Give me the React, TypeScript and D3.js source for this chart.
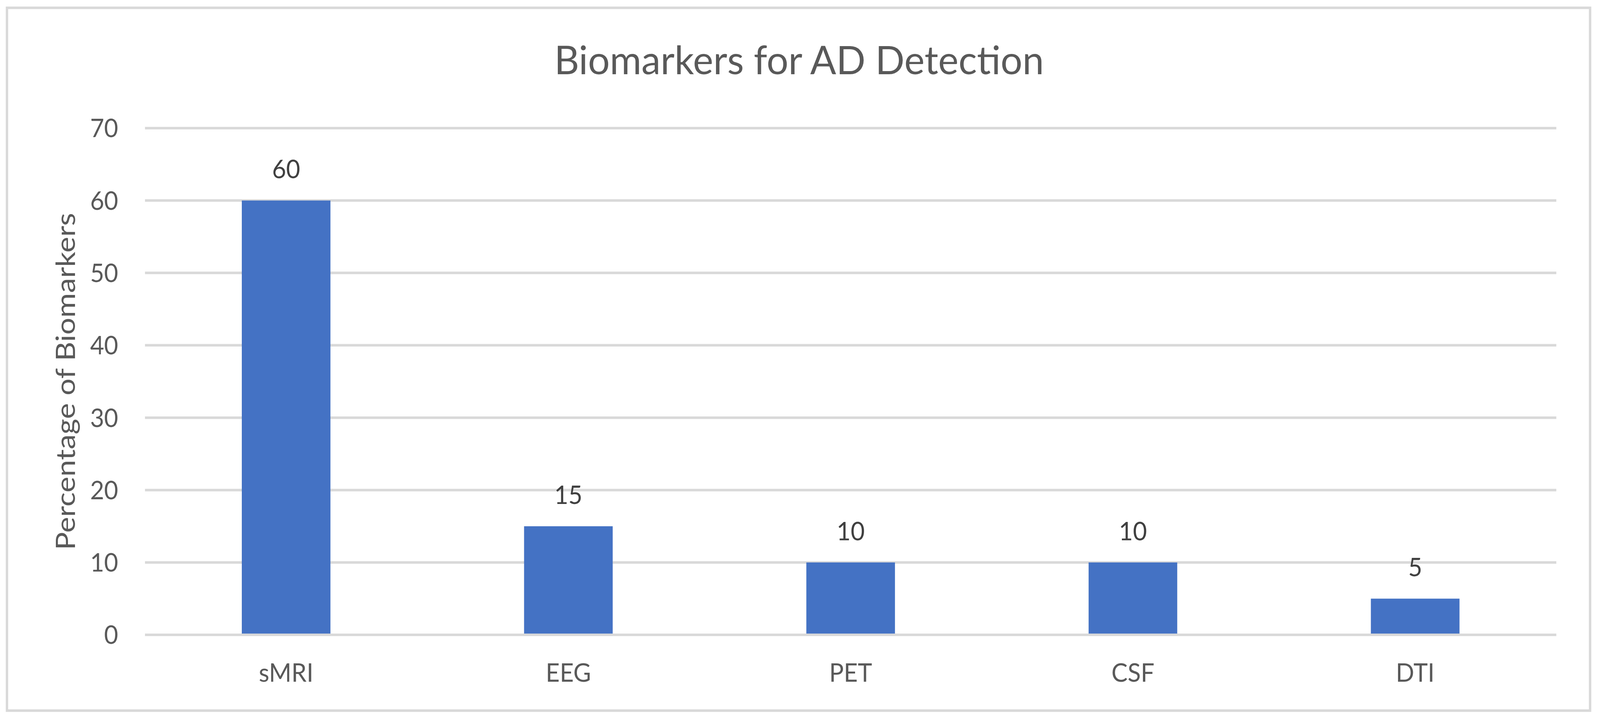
import * as d3 from "d3";
import { useEffect, useRef } from "react";

const categories = ["sMRI", "EEG", "PET", "CSF", "DTI"];
const values = [60, 15, 10, 10, 5];
const yTicks = [0, 10, 20, 30, 40, 50, 60, 70];
const chartTitle = "Biomarkers for AD Detection";
const yTitle = "Percentage of Biomarkers";

const W = 4359;
const H = 1843;
const FONT = "Lato, 'Open Sans', sans-serif";

const drawChart = (target: any) => {
  const m = { left: 395, right: 4240, top: 328, bottom: 1625 };

  const x = d3
    .scaleBand<string>()
    .domain(categories)
    .range([m.left, m.right])
    .paddingInner(0.686)
    .paddingOuter(0.343);
  const y = d3.scaleLinear().domain([0, 70]).range([m.bottom, m.top]);

  // the browser viewport can be narrower than W, so stretch the drawing to fill it
  const svg = d3
    .create("svg")
    .attr("viewBox", `0 0 ${W} ${H}`)
    .attr("preserveAspectRatio", "none")
    .style("position", "fixed")
    .style("left", "0px")
    .style("top", "0px")
    .style("width", "100vw")
    .style("height", "100vh")
    .style("background", "#fff");

  // chart area border
  svg
    .append("rect")
    .attr("x", 19)
    .attr("y", 20)
    .attr("width", 4313)
    .attr("height", 1799)
    .attr("fill", "#fff")
    .attr("stroke", "#d9d9d9")
    .attr("stroke-width", 6.5);

  // gridlines (not the zero line)
  svg
    .append("g")
    .selectAll("line")
    .data(yTicks.filter((d) => d !== 0))
    .join("line")
    .attr("x1", m.left)
    .attr("x2", m.right)
    .attr("y1", (d) => y(d))
    .attr("y2", (d) => y(d))
    .attr("stroke", "#d9d9d9")
    .attr("stroke-width", 6.5);

  // bars
  svg
    .append("g")
    .selectAll("rect")
    .data(values)
    .join("rect")
    .attr("x", (_d, i) => x(categories[i])!)
    .attr("width", x.bandwidth())
    .attr("y", (d) => y(d))
    .attr("height", (d) => y(0) - y(d))
    .attr("fill", "#4472c4");

  // category axis line
  svg
    .append("line")
    .attr("x1", m.left)
    .attr("x2", m.right)
    .attr("y1", y(0))
    .attr("y2", y(0))
    .attr("stroke", "#d9d9d9")
    .attr("stroke-width", 6.5);

  // y tick labels
  svg
    .append("g")
    .selectAll("text")
    .data(yTicks)
    .join("text")
    .attr("x", 322)
    .attr("y", (d) => y(d) + 23.5)
    .attr("text-anchor", "end")
    .attr("font-family", FONT)
    .attr("font-size", 66)
    .attr("fill", "#595959")
    .text((d) => d);

  // data labels
  svg
    .append("g")
    .selectAll("text")
    .data(values)
    .join("text")
    .attr("x", (_d, i) => x(categories[i])! + x.bandwidth() / 2)
    .attr("y", (d) => y(d) - 57)
    .attr("text-anchor", "middle")
    .attr("font-family", FONT)
    .attr("font-size", 66)
    .attr("fill", "#404040")
    .text((d) => d);

  // category labels
  svg
    .append("g")
    .selectAll("text")
    .data(categories)
    .join("text")
    .attr("x", (d) => x(d)! + x.bandwidth() / 2)
    .attr("y", 1745)
    .attr("text-anchor", "middle")
    .attr("font-family", FONT)
    .attr("font-size", 66)
    .attr("fill", "#595959")
    .text((d) => d);

  // title
  svg
    .append("text")
    .attr("x", 2177)
    .attr("y", 190)
    .attr("text-anchor", "middle")
    .attr("font-family", FONT)
    .attr("font-size", 100)
    .attr("fill", "#595959")
    .attr("textLength", 1334)
    .attr("lengthAdjust", "spacingAndGlyphs")
    .text(chartTitle);

  // y axis title
  svg
    .append("text")
    .attr("transform", `translate(204, ${(m.top + m.bottom) / 2}) rotate(-90)`)
    .attr("text-anchor", "middle")
    .attr("font-family", FONT)
    .attr("font-size", 73)
    .attr("fill", "#595959")
    .attr("textLength", 863)
    .attr("lengthAdjust", "spacingAndGlyphs")
    .text(yTitle);

  const targetAccess = d3.select(target);
  targetAccess.selectAll("svg").remove();
  targetAccess.append(() => svg.node());
};

const App = () => {
  const targetRef = useRef<HTMLDivElement>(null);
  useEffect(() => {
    if (targetRef.current) drawChart(targetRef.current);
  }, []);
  return <div ref={targetRef} />;
};

export default App;
